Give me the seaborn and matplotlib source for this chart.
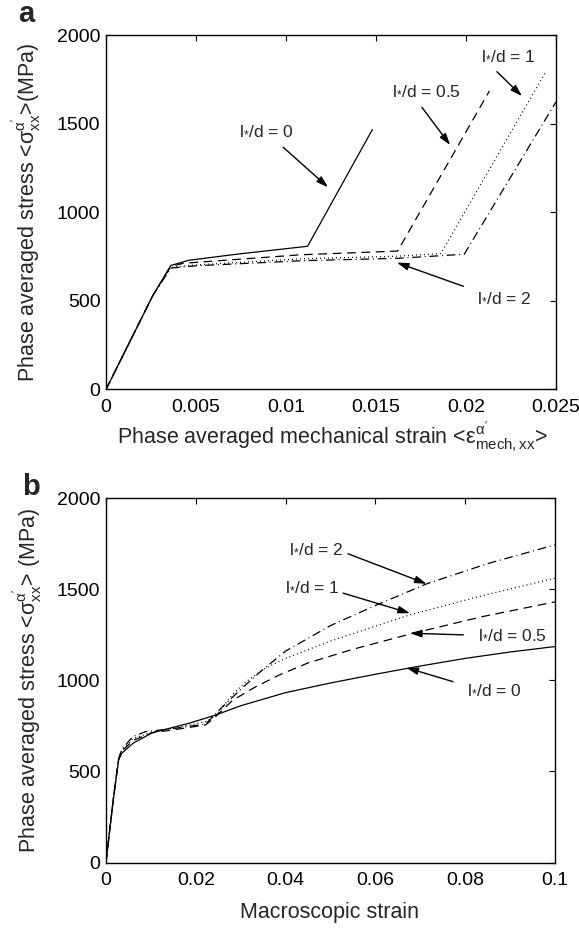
import matplotlib
matplotlib.use("Agg")
import matplotlib.pyplot as plt
import seaborn as sns
import pandas as pd

# ---------------- data ----------------
# panel a : phase averaged stress vs phase averaged mechanical strain
a_x0 = [0, 0.0026, 0.0036, 0.0046, 0.0074, 0.0112, 0.0148]
a_y0 = [0, 530, 700, 729, 765, 808, 1467]
a_x05 = [0, 0.0026, 0.0036, 0.0043, 0.0108, 0.0162, 0.0213]
a_y05 = [0, 530, 695, 712, 760, 781, 1684]
a_x1 = [0, 0.0026, 0.0036, 0.005, 0.011, 0.0162, 0.0186, 0.0244]
a_y1 = [0, 530, 690, 703, 738, 752, 767, 1787]
a_x2 = [0, 0.0026, 0.0036, 0.005, 0.011, 0.0162, 0.0199, 0.025]
a_y2 = [0, 530, 685, 698, 727, 740, 763, 1623]

# panel b : phase averaged stress vs macroscopic strain
b_x0 = [0, 0.0016, 0.0028, 0.0035, 0.006, 0.0103, 0.0185, 0.0244, 0.03, 0.04,
        0.05, 0.06, 0.07, 0.08, 0.09, 0.1]
b_y0 = [0, 342, 562, 599, 654, 712, 764, 809, 860, 932, 985, 1033, 1078, 1120,
        1155, 1185]
b_x05 = [0, 0.0016, 0.0028, 0.0035, 0.006, 0.0103, 0.015, 0.0222, 0.0244, 0.0282,
         0.0334, 0.0387, 0.045, 0.055, 0.0684, 0.084, 0.1]
b_y05 = [0, 342, 565, 610, 670, 712, 728, 755, 800, 890, 965, 1030, 1095, 1170,
         1258, 1350, 1430]
b_x1 = [0, 0.0016, 0.0028, 0.0035, 0.006, 0.0103, 0.0185, 0.0222, 0.0244, 0.0285,
        0.0311, 0.035, 0.04, 0.05, 0.0677, 0.084, 0.1]
b_y1 = [0, 342, 565, 615, 680, 715, 754, 773, 805, 930, 990, 1060, 1120, 1215,
        1359, 1465, 1560]
b_x2 = [0, 0.0016, 0.0028, 0.0035, 0.0059, 0.0088, 0.015, 0.0222, 0.0256, 0.03,
        0.035, 0.04, 0.05, 0.06, 0.0714, 0.085, 0.1]
b_y2 = [0, 342, 570, 620, 690, 718, 735, 760, 846, 950, 1060, 1160, 1300, 1410,
        1529, 1640, 1743]

labels = ["0", "0.5", "1", "2"]
a_xticks = [0, 0.005, 0.01, 0.015, 0.02, 0.025]
a_xticklabels = ["0", "0.005", "0.01", "0.015", "0.02", "0.025"]
b_xticks = [0, 0.02, 0.04, 0.06, 0.08, 0.1]
b_xticklabels = ["0", "0.02", "0.04", "0.06", "0.08", "0.1"]
yticks = [0, 500, 1000, 1500, 2000]
yticklabels = ["0", "500", "1000", "1500", "2000"]

# ---------------- style ----------------
sns.set_style("white")
plt.rcParams["font.family"] = ["Liberation Sans", "DejaVu Sans"]
plt.rcParams["mathtext.fontset"] = "custom"
plt.rcParams["mathtext.rm"] = "Liberation Sans"
plt.rcParams["mathtext.it"] = "Liberation Sans"
plt.rcParams["mathtext.bf"] = "Liberation Sans:bold"
plt.rcParams["mathtext.sf"] = "Liberation Sans"

styles = {"0": "-", "0.5": (0, (7, 4.5)), "1": (0, (0.8, 2.4)),
          "2": (0, (7, 3, 0.8, 3))}

fig = plt.figure(figsize=(5.79, 9.30), dpi=100)
axa = fig.add_axes([106 / 579, 1 - 389.5 / 930, 450 / 579, 354.5 / 930])
axb = fig.add_axes([106 / 579, 1 - 862.5 / 930, 449 / 579, 364.5 / 930])


def draw(ax, xs, ys):
    for lab, x, y in zip(labels, xs, ys):
        df = pd.DataFrame({"x": x, "y": y})
        sns.lineplot(data=df, x="x", y="y", ax=ax, color="black", lw=0.9,
                     sort=False, estimator=None, linestyle=styles[lab])


draw(axa, [a_x0, a_x05, a_x1, a_x2], [a_y0, a_y05, a_y1, a_y2])
draw(axb, [b_x0, b_x05, b_x1, b_x2], [b_y0, b_y05, b_y1, b_y2])

for ax, xt, xtl, xmax in [(axa, a_xticks, a_xticklabels, 0.025),
                          (axb, b_xticks, b_xticklabels, 0.1)]:
    ax.set_xlim(0, xmax)
    ax.set_ylim(0, 2000)
    ax.set_xticks(xt)
    ax.set_xticklabels(xtl)
    ax.set_yticks(yticks)
    ax.set_yticklabels(yticklabels)
    ax.tick_params(direction="in", length=4, width=0.8, top=True, right=True,
                   labelsize=14, colors="black")
    ax.tick_params(axis="x", pad=7)
    ax.tick_params(axis="y", pad=4)
    for s in ax.spines.values():
        s.set_color("black")
        s.set_linewidth(1.0)

axa.set_xlabel(r"Phase averaged mechanical strain <$\mathrm{\varepsilon}^{\mathrm{\alpha}'}_{\mathrm{mech,xx}}$>",
               fontsize=15.5)
axa.set_ylabel(r"Phase averaged stress <$\mathrm{\sigma}^{\mathrm{\alpha}'}_{\mathrm{xx}}$>(MPa)",
               fontsize=15.5)
axb.set_xlabel("Macroscopic strain", fontsize=15.5)
axb.set_ylabel(r"Phase averaged stress <$\mathrm{\sigma}^{\mathrm{\alpha}'}_{\mathrm{xx}}$> (MPa)",
               fontsize=15.5)
axa.xaxis.set_label_coords(0.502, -0.085)
axb.xaxis.set_label_coords(0.498, -0.107)
axa.yaxis.set_label_coords(-0.139, 0.5)
axb.yaxis.set_label_coords(-0.137, 0.5)

fig.text(18 / 579, 1 - 14 / 930, "a", fontsize=21, fontweight="bold", va="center")
fig.text(22 / 579, 1 - 487 / 930, "b", fontsize=21, fontweight="bold", va="center")

arrow = dict(arrowstyle="-|>,head_length=0.7,head_width=0.22", color="black",
             lw=1.0, shrinkA=0, shrinkB=0)


def ann(ax, val, txt_xy, tail, head):
    ax.text(txt_xy[0], txt_xy[1], r"l$_{*}$/d = " + val, fontsize=12.5,
            ha="center", va="center")
    ax.annotate("", xy=head, xytext=tail, arrowprops=arrow)


ann(axa, "0", (0.0089, 1463), (0.00984, 1367), (0.01234, 1141))
ann(axa, "0.5", (0.0178, 1689), (0.01755, 1592), (0.01912, 1379))
ann(axa, "1", (0.02235, 1887), (0.02172, 1793), (0.02311, 1655))
ann(axa, "2", (0.02213, 521), (0.01986, 582), (0.01616, 716))

ann(axb, "2", (0.0467, 1725), (0.0539, 1694), (0.0714, 1529))
ann(axb, "1", (0.0460, 1514), (0.0528, 1478), (0.0677, 1368))
ann(axb, "0.5", (0.0906, 1249), (0.0796, 1249), (0.0677, 1258))
ann(axb, "0", (0.0864, 947), (0.0773, 992), (0.0669, 1069))

fig.savefig("out.png", dpi=100, facecolor="white")
